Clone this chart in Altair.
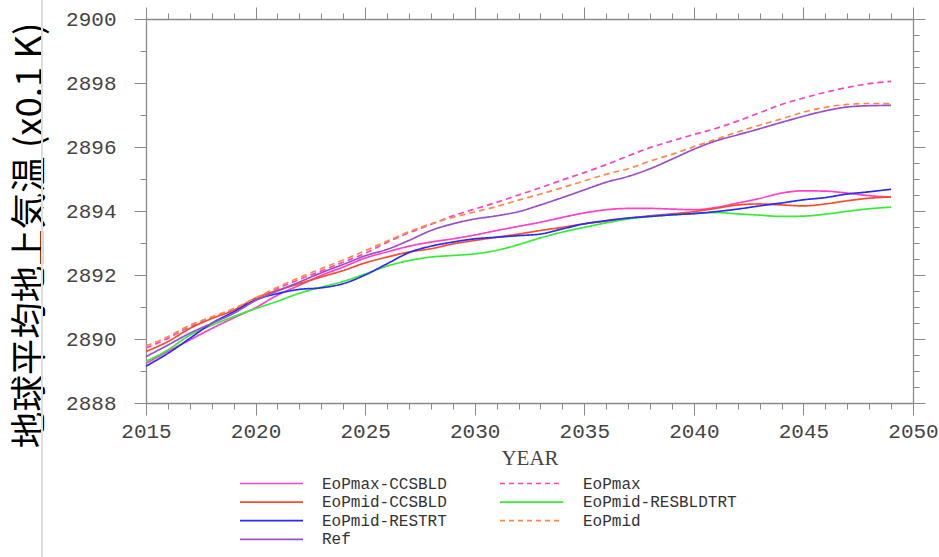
import altair as alt
import pandas as pd

years = list(range(2015, 2050))

eopmax_ccsbld = [2889.24, 2889.61, 2889.97, 2890.33, 2890.66, 2890.98, 2891.37, 2891.68, 2891.99, 2892.25,
                 2892.53, 2892.72, 2892.90, 2893.03, 2893.13, 2893.25, 2893.39, 2893.52, 2893.65, 2893.80,
                 2893.94, 2894.04, 2894.08, 2894.08, 2894.06, 2894.04, 2894.11, 2894.25, 2894.39, 2894.56,
                 2894.63, 2894.62, 2894.56, 2894.48, 2894.43]
eopmid_ccsbld = [2889.61, 2889.92, 2890.33, 2890.64, 2890.90, 2891.28, 2891.52, 2891.73, 2891.94, 2892.14,
                 2892.38, 2892.56, 2892.72, 2892.82, 2892.97, 2893.08, 2893.18, 2893.28, 2893.39, 2893.49,
                 2893.60, 2893.68, 2893.77, 2893.85, 2893.91, 2893.98, 2894.08, 2894.19, 2894.22, 2894.19,
                 2894.16, 2894.22, 2894.32, 2894.40, 2894.44]
eopmid_restrt = [2889.15, 2889.55, 2890.02, 2890.49, 2890.85, 2891.22, 2891.42, 2891.55, 2891.60, 2891.73,
                 2892.00, 2892.35, 2892.70, 2892.90, 2893.03, 2893.13, 2893.18, 2893.23, 2893.28, 2893.44,
                 2893.60, 2893.70, 2893.78, 2893.83, 2893.88, 2893.92, 2893.98, 2894.06, 2894.16, 2894.25,
                 2894.35, 2894.42, 2894.53, 2894.60, 2894.68]
ref = [2889.45, 2889.81, 2890.18, 2890.49, 2890.80, 2891.20, 2891.50, 2891.78, 2892.07, 2892.33,
       2892.60, 2892.80, 2893.08, 2893.39, 2893.60, 2893.75, 2893.85, 2893.98, 2894.19, 2894.42,
       2894.66, 2894.90, 2895.08, 2895.32, 2895.62, 2895.93, 2896.19, 2896.38, 2896.57, 2896.77,
       2896.96, 2897.13, 2897.25, 2897.29, 2897.30]
eopmax = [2889.72, 2890.02, 2890.38, 2890.66, 2890.92, 2891.25, 2891.58, 2891.86, 2892.13, 2892.40,
          2892.68, 2893.02, 2893.32, 2893.58, 2893.85, 2894.06, 2894.27, 2894.50, 2894.73, 2894.97,
          2895.20, 2895.45, 2895.72, 2895.98, 2896.19, 2896.39, 2896.58, 2896.81, 2897.07, 2897.33,
          2897.53, 2897.71, 2897.86, 2897.98, 2898.05]
eopmid_resbldtrt = [2889.30, 2889.66, 2890.12, 2890.43, 2890.70, 2890.95, 2891.18, 2891.43, 2891.62, 2891.80,
                    2892.03, 2892.28, 2892.45, 2892.56, 2892.61, 2892.66, 2892.77, 2892.95, 2893.16, 2893.34,
                    2893.49, 2893.63, 2893.75, 2893.83, 2893.88, 2893.92, 2893.95, 2893.91, 2893.87, 2893.83,
                    2893.84, 2893.90, 2893.99, 2894.07, 2894.12]
eopmid = [2889.78, 2890.07, 2890.43, 2890.69, 2890.95, 2891.28, 2891.62, 2891.92, 2892.20, 2892.47,
          2892.76, 2893.06, 2893.35, 2893.60, 2893.80, 2893.97, 2894.14, 2894.34, 2894.53, 2894.73,
          2894.94, 2895.15, 2895.32, 2895.56, 2895.77, 2896.01, 2896.24, 2896.47, 2896.68, 2896.88,
          2897.09, 2897.24, 2897.33, 2897.36, 2897.36]

# legend entries are listed row by row across two columns
series_names = ["EoPmax-CCSBLD", "EoPmax", "EoPmid-CCSBLD", "EoPmid-RESBLDTRT",
                "EoPmid-RESTRT", "EoPmid", "Ref"]
series_values = [eopmax_ccsbld, eopmax, eopmid_ccsbld, eopmid_resbldtrt,
                 eopmid_restrt, eopmid, ref]
series_colors = ["#FF40C8", "#FF40C8", "#FF4A2A", "#33EE33", "#2A2AFF", "#FF8A45", "#9B4FC8"]
series_dashes = [[1, 0], [6, 4], [1, 0], [1, 0], [1, 0], [6, 4], [1, 0]]
legend_dashes = [[1, 0], [5, 4], [1, 0], [1, 0], [1, 0], [5, 4], [1, 0]]

rows = []
for name, vals in zip(series_names, series_values):
    for yr, v in zip(years, vals):
        rows.append({"year": yr, "temp": v, "series": name})
df = pd.DataFrame(rows)

legend_df = pd.DataFrame({"series": series_names, "idx": list(range(len(series_names)))})

x_ticks = list(range(2015, 2051))
y_ticks = [2888 + 0.5 * i for i in range(25)]

W, H = 939, 557
LEFT, TOP, PW, PH = 146, 19, 767, 384

AXIS_GREY = "#8a8a8a"
LABEL_FONT = "Liberation Mono"

x_major = {"condition": {"test": "datum.value % 5 === 0", "value": 12}, "value": 6}
y_major = {"condition": {"test": "datum.value % 2 === 0", "value": 12}, "value": 6}

x_scale = alt.Scale(domain=[2015, 2050], nice=False, zero=False)
y_scale = alt.Scale(domain=[2888, 2900], nice=False, zero=False)
color_scale = alt.Scale(domain=series_names, range=series_colors)
dash_scale = alt.Scale(domain=series_names, range=series_dashes)

lines = alt.Chart(df).mark_line(strokeWidth=1.7, interpolate="monotone").encode(
    x=alt.X("year:Q", scale=x_scale, axis=alt.Axis(
        orient="bottom", values=x_ticks, format="d",
        labelExpr="datum.value % 5 === 0 ? datum.label : ''",
        labelOverlap=False, labelFlush=False, labelFont=LABEL_FONT, labelFontSize=21,
        labelColor="#444444", labelBaseline="top", labelPadding=5,
        tickSize=x_major, tickColor=AXIS_GREY, tickWidth=1,
        domainColor=AXIS_GREY, domainWidth=1.3, grid=False,
        title="YEAR", titleFont="Liberation Serif", titleFontSize=21,
        titleFontWeight="normal", titleColor="#444444", titleBaseline="middle", titleY=55,
    )),
    y=alt.Y("temp:Q", scale=y_scale, axis=alt.Axis(
        orient="left", values=y_ticks, format="d",
        labelExpr="datum.value % 2 === 0 ? datum.label : ''",
        labelOverlap=False, labelFlush=False, labelFont=LABEL_FONT, labelFontSize=21,
        labelColor="#444444", labelPadding=18,
        tickSize=y_major, tickColor=AXIS_GREY, tickWidth=1,
        domainColor=AXIS_GREY, domainWidth=1.3, grid=False,
        title="地球平均地上気温 (x0.1 K)", titleFont="Noto Sans CJK JP", titleFontSize=36.5,
        titleFontWeight="normal", titleColor="#000000", titleAngle=270,
        titleAlign="center", titleBaseline="middle", titleX=-116, titleY=216,
    )),
    color=alt.Color("series:N", scale=color_scale, legend=None),
    strokeDash=alt.StrokeDash("series:N", scale=dash_scale, legend=None),
)

# mirror axes on top and right that carry only ticks
frame = alt.Chart(df).mark_line(strokeOpacity=0).encode(
    x=alt.X("year:Q", scale=x_scale, axis=alt.Axis(
        orient="top", values=x_ticks, labels=False, title=None,
        tickSize=x_major, tickColor=AXIS_GREY, tickWidth=1,
        domainColor=AXIS_GREY, domainWidth=1.3, grid=False,
    )),
    y=alt.Y("temp:Q", scale=y_scale, axis=alt.Axis(
        orient="right", values=y_ticks, labels=False, title=None,
        tickSize=y_major, tickColor=AXIS_GREY, tickWidth=1,
        domainColor=AXIS_GREY, domainWidth=1.3, grid=False,
    )),
    detail="series:N",
)

# page-pixel scales for the legend block under the plot
px = alt.Scale(domain=[0, W], range=[-LEFT, W - LEFT])
py = alt.Scale(domain=[0, H], range=[-TOP, H - TOP])

legend_base = alt.Chart(legend_df).transform_calculate(
    col="datum.idx % 2",
    row="floor(datum.idx / 2)",
).transform_calculate(
    sx0="240 + datum.col * 260",
    sx1="303 + datum.col * 260",
    tx="322 + datum.col * 261",
    ly="483.5 + datum.row * 18.6",
)

legend_lines = legend_base.mark_rule(strokeWidth=1.7).encode(
    x=alt.X("sx0:Q", scale=px, axis=None),
    x2="sx1:Q",
    y=alt.Y("ly:Q", scale=py, axis=None),
    color=alt.Color("series:N", scale=color_scale, legend=None),
    strokeDash=alt.StrokeDash("series:N", scale=alt.Scale(domain=series_names, range=legend_dashes),
                              legend=None),
)

legend_text = legend_base.mark_text(
    align="left", baseline="middle", font=LABEL_FONT, fontSize=16, color="#333333",
).encode(
    x=alt.X("tx:Q", scale=px, axis=None),
    y=alt.Y("ly:Q", scale=py, axis=None),
    text="series:N",
)

edge = alt.Chart(legend_df).mark_rule(color="#dddddd", strokeWidth=1).encode(
    x=alt.value(42 - LEFT), y=alt.value(-TOP), y2=alt.value(H - TOP),
)

chart = alt.layer(edge, frame, lines, legend_lines, legend_text).resolve_scale(
    x="independent", y="independent", strokeDash="independent",
).resolve_axis(x="independent", y="independent").properties(
    width=PW, height=PH,
    autosize=alt.AutoSizeParams(type="none"),
    padding={"left": LEFT, "top": TOP, "right": W - LEFT - PW, "bottom": H - TOP - PH},
).configure_view(stroke=None).configure(background="white")

chart.save("out.html", embed_options={"renderer": "svg", "actions": False})
